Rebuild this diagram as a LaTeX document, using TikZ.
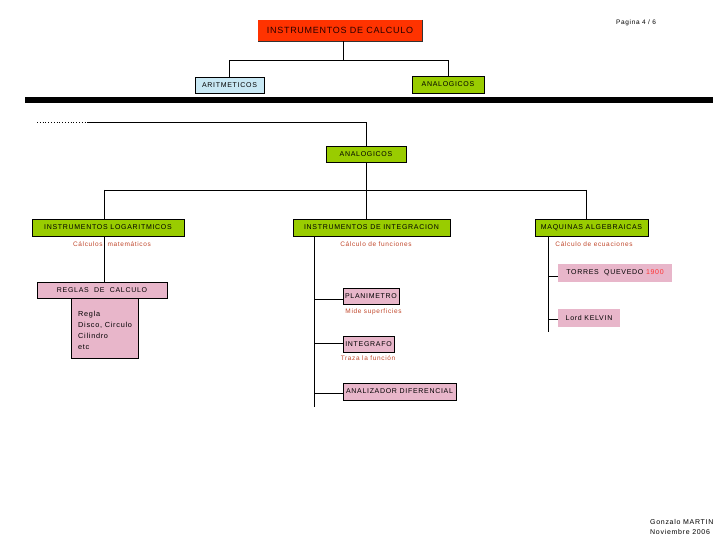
\documentclass[tikz,border=0pt]{standalone}
\usepackage{fontspec}
\setmainfont{Liberation Sans}
\newfontfamily\lbl[LetterSpace=10]{Liberation Sans}
\newfontfamily\ttl[LetterSpace=8]{Liberation Sans}
\definecolor{titlered}{HTML}{FF3300}
\definecolor{grn}{HTML}{99CC00}
\definecolor{lblue}{HTML}{C8E8F4}
\definecolor{pnk}{HTML}{E8B6CA}
\definecolor{notecol}{HTML}{C0462A}
\definecolor{yearred}{HTML}{FF3333}
\begin{document}
\begin{tikzpicture}[x=1pt,y=-1pt,
  box/.style={draw=black, line width=0.7pt, inner sep=0pt, text=black,
    font=\lbl\fontsize{7}{8}\selectfont},
  gbox/.style={box, fill=grn},
  pbox/.style={box, fill=pnk},
  nbbox/.style={box, draw=none, fill=pnk},
  note/.style={inner sep=0pt, text=notecol, font=\lbl\fontsize{6.5}{7.5}\selectfont},
  plain/.style={inner sep=0pt, text=black, font=\lbl\fontsize{6.5}{7.5}\selectfont},
  conn/.style={line width=0.8pt, black}]
\useasboundingbox (0,0) rectangle (720,540);

% header
\node[inner sep=0pt, fill=titlered, minimum width=164pt, minimum height=21pt,
  text=black!85!red, font=\ttl\fontsize{9}{10}\selectfont] (title) at (340,30.5) {INSTRUMENTOS DE CALCULO};
\draw[line width=0.9pt, black!80] (title.north east) -- (title.south east) -- (title.south west);
\node[plain, anchor=west] (page) at (616,23) {Pagina 4 / 6};

\node[box, fill=lblue, minimum width=69pt, minimum height=16pt] (arit) at (229.5,85) {ARITMETICOS};
\node[gbox, minimum width=72pt, minimum height=17pt] (an1) at (448,84.5) {ANALOGICOS};

\coordinate (j0) at (343,60);
\draw[conn] (title.south -| j0) -- (j0);
\draw[conn] (arit.north) -- (arit.north |- j0) -- (an1.north |- j0) -- (an1.north);

% thick bar
\fill[black] (25,97) rectangle (713,103);

% second level
\coordinate (ds) at (37,122);
\coordinate (d0) at (87,122);
\draw[line width=0.8pt, dotted] (ds) -- (d0);
\node[gbox, minimum width=80pt, minimum height=16pt] (an2) at (366,154) {ANALOGICOS};
\draw[conn] (d0) -| (an2.north);

\node[gbox, minimum width=152pt, minimum height=17pt] (log) at (108,227.5) {INSTRUMENTOS LOGARITMICOS};
\node[gbox, minimum width=157pt, minimum height=17pt] (integ) at (371.5,227.5) {INSTRUMENTOS DE INTEGRACION};
\node[gbox, minimum width=113pt, minimum height=17pt] (maq) at (591.5,227.5) {MAQUINAS ALGEBRAICAS};

\coordinate (hL) at (104,190);
\coordinate (hR) at (586,190);
\draw[conn] (hL) -- (hR);
\draw[conn] (hL) -- (hL |- log.north);
\draw[conn] (an2.south) -- (an2.south |- integ.north);
\draw[conn] (hR) -- (hR |- maq.north);

\node[note] (n1) at (112,244) {Cálculos \ matemáticos};
\node[note] (n2) at (376,244) {Cálculo de funciones};
\node[note] (n3) at (594,244) {Cálculo de ecuaciones};

% logaritmicos branch
\node[pbox, line width=0.5pt, minimum width=130pt, minimum height=16pt] (reg) at (102,290) {REGLAS \ DE \ CALCULO};
\node[pbox, line width=0.5pt, minimum width=67pt, minimum height=60pt, anchor=north] (regsub) at (104.5,298) {};
\node[plain, anchor=west, align=left, font=\lbl\fontsize{7.3}{10.8}\selectfont] (regtxt) at (78,330.5) {Regla\\Disco, Circulo\\Cilindro\\etc};
\draw[conn] (hL |- log.south) -- (hL |- reg.north);

% integracion branch
\coordinate (ti) at (314,407);
\draw[conn] (ti |- integ.south) -- (ti);
\node[pbox, minimum width=56pt, minimum height=16pt] (plan) at (371,296) {PLANIMETRO};
\node[pbox, minimum width=51pt, minimum height=16pt] (igf) at (368.5,344) {INTEGRAFO};
\node[pbox, minimum width=113pt, minimum height=17pt] (ana) at (399.5,391.5) {ANALIZADOR DIFERENCIAL};
\draw[conn] (ti |- 0,299) -- (plan.west |- 0,299);
\draw[conn] (ti |- 0,343) -- (igf.west |- 0,343);
\draw[conn] (ti |- 0,393) -- (ana.west |- 0,393);
\node[note] (n4) at (373.5,312) {Mide superficies};
\node[note] (n5) at (368,358) {Traza la función};

% maquinas branch
\coordinate (tm) at (548,332);
\draw[conn] (tm |- maq.south) -- (tm);
\node[nbbox, minimum width=114pt, minimum height=18pt] (tor) at (615,273) {TORRES \ QUEVEDO \textcolor{yearred}{1900}};
\node[nbbox, minimum width=62pt, minimum height=18pt] (kel) at (589,318) {Lord KELVIN};
\draw[conn] (tm |- 0,276) -- (tor.west |- 0,276);
\draw[conn] (tm |- 0,319) -- (kel.west |- 0,319);

% footer
\node[plain, anchor=west, align=left, font=\lbl\fontsize{7}{10}\selectfont] (foot) at (650,527) {Gonzalo MARTIN\\Noviembre 2006};
\end{tikzpicture}
\end{document}
